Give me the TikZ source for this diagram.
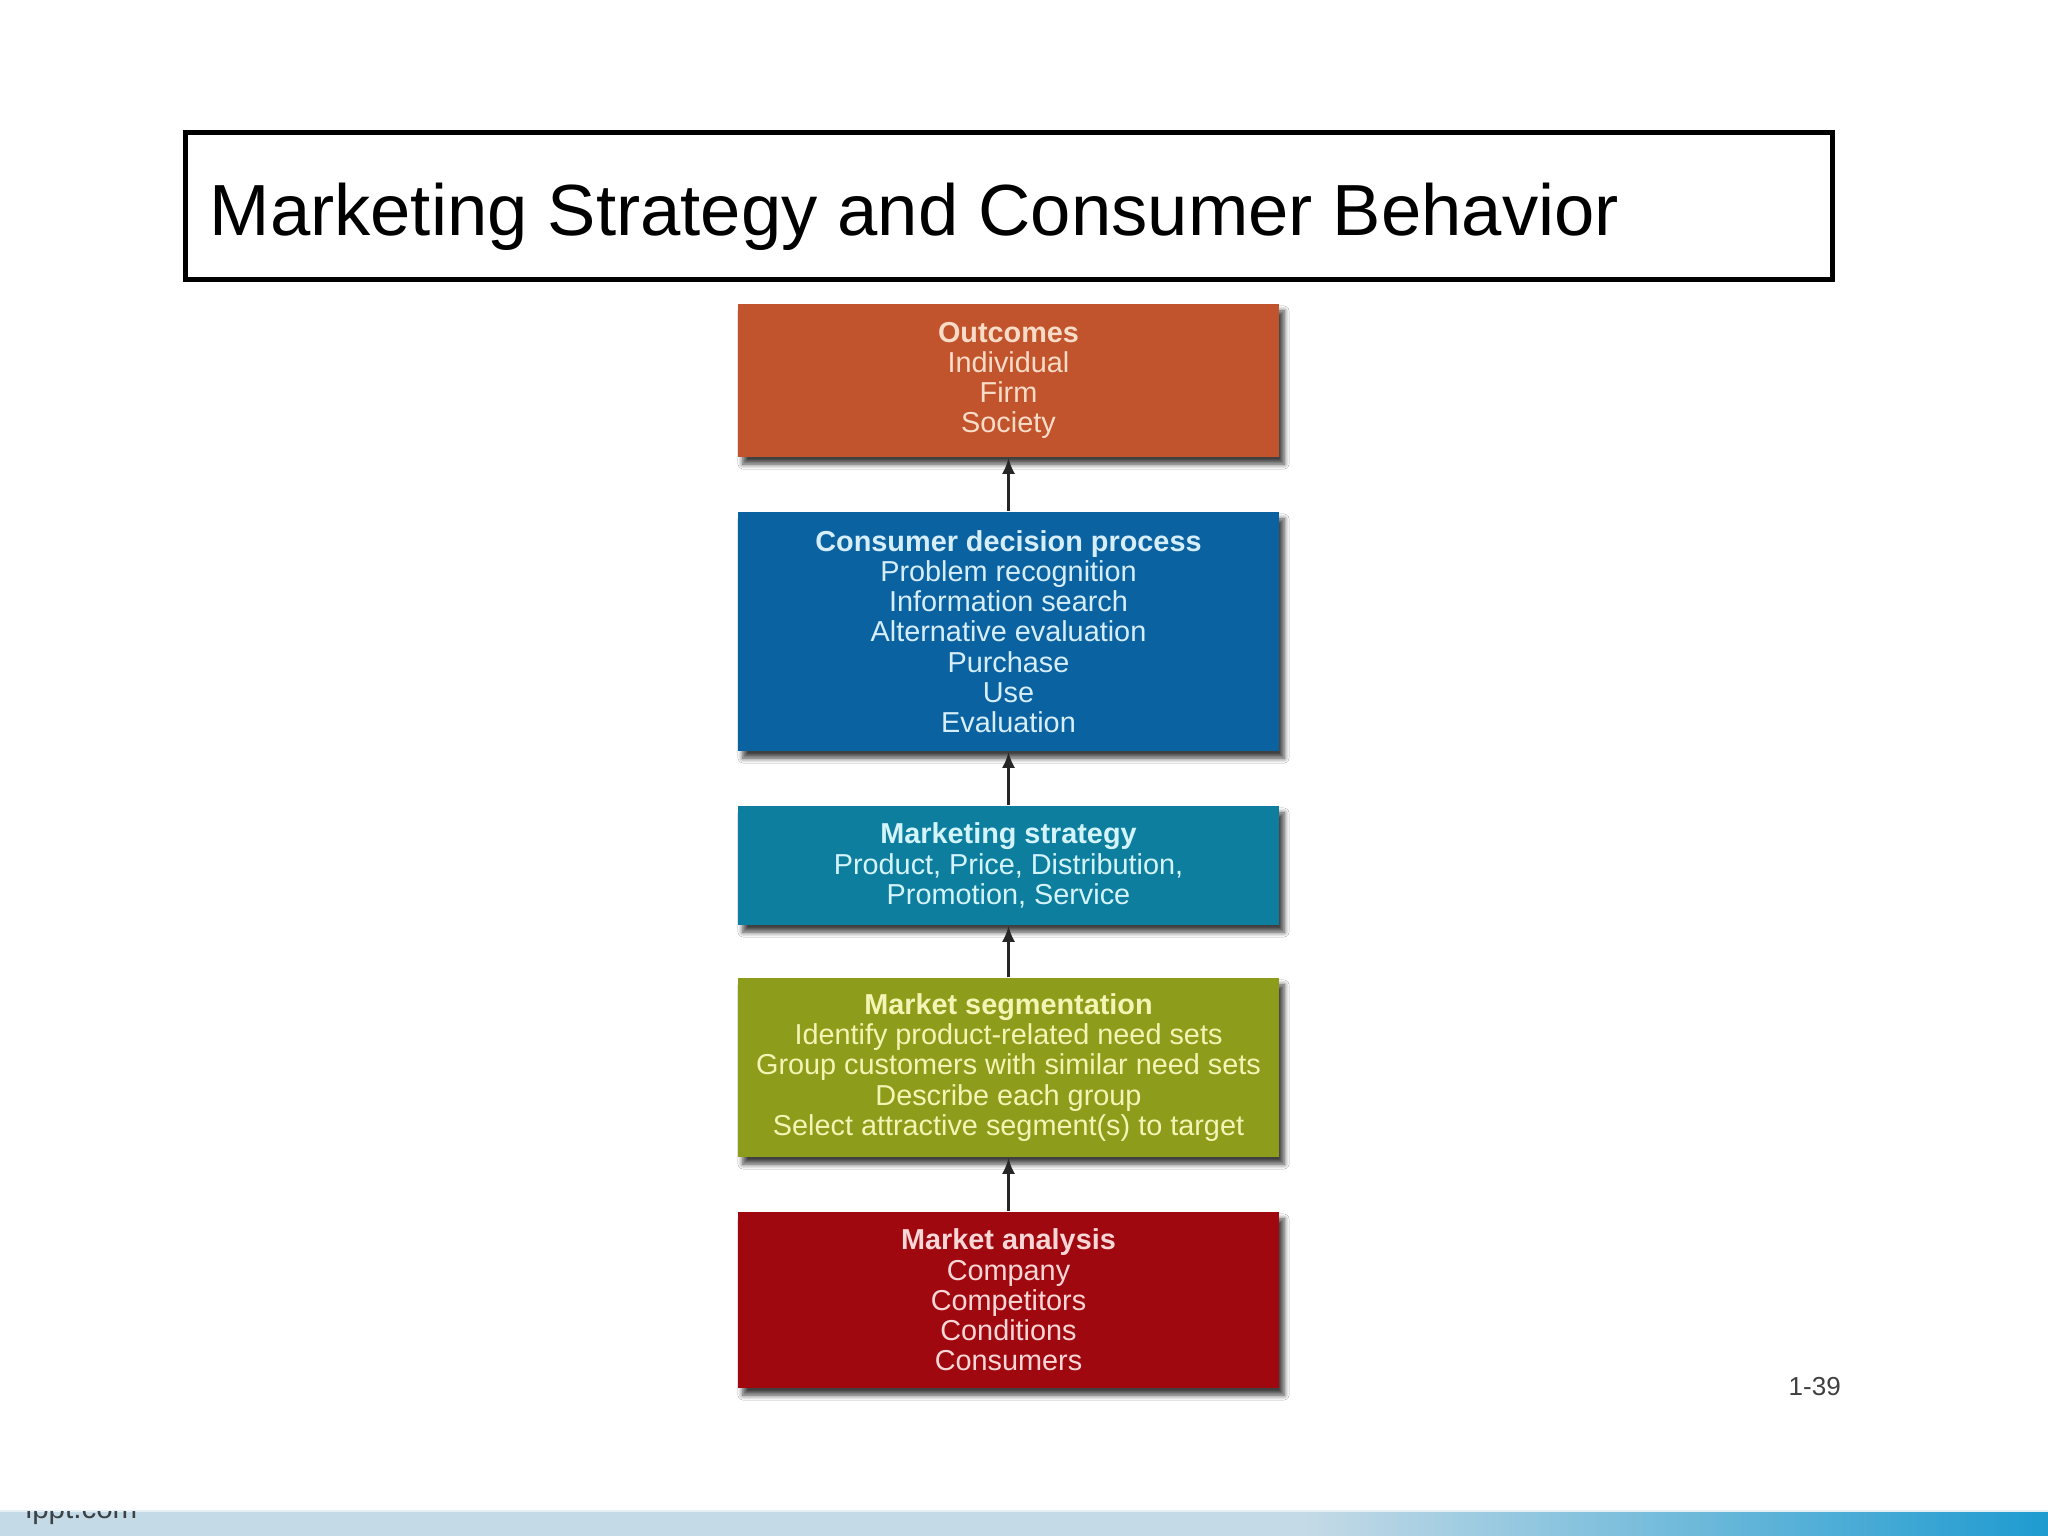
\documentclass[tikz,border=0pt]{standalone}
\usepackage{fontspec}
\setmainfont{Liberation Sans}
\usepackage{xcolor}
\usepackage{tikz}
\usetikzlibrary{arrows.meta}
\usetikzlibrary{shadows.blur}

\definecolor{outcfill}{HTML}{C1542C}
\definecolor{outctext}{HTML}{F9DCC8}
\definecolor{cdpfill}{HTML}{0B62A0}
\definecolor{cdptext}{HTML}{D6EEFA}
\definecolor{stratfill}{HTML}{0E7E9E}
\definecolor{strattext}{HTML}{D4F4FC}
\definecolor{segfill}{HTML}{8E9C1B}
\definecolor{segtext}{HTML}{F4F4B4}
\definecolor{analfill}{HTML}{A0080F}
\definecolor{analtext}{HTML}{FAD6D6}
\definecolor{barblue}{HTML}{C4DAE6}
\definecolor{barend}{HTML}{1E9BD0}

\begin{document}
\begin{tikzpicture}[x=0.01cm,y=-0.01cm]
\tikzset{>={Latex[width=1.3mm,length=1.6mm]}}
\tikzstyle{stage} =[rectangle, inner sep=0pt, minimum width=5.41cm, align=center, font=\fontsize{8.2pt}{8.6pt}\selectfont, blur shadow={shadow xshift=0.05cm,shadow yshift=-0.07cm,shadow blur radius=0.05cm,shadow blur steps=6,shadow opacity=75}]
\tikzstyle{link} =[->, line width=0.03cm, black!85]

\useasboundingbox (0,0) rectangle (2048,1536);
\fill[white] (0,0) rectangle (2048,1536);

\node[draw, line width=0.05cm, minimum width=16.46cm, minimum height=1.46cm, inner sep=0pt](titlebox) at (1009,206){};
\node[anchor=base west, inner sep=0pt, font=\fontsize{20.6pt}{24pt}\selectfont](title) at (209,235){Marketing Strategy and Consumer Behavior};

\node[stage, fill=outcfill, text=outctext, minimum height=1.53cm](outc) at (1008.5,380.5){\textbf{Outcomes}\\Individual\\Firm\\Society};
\node[stage, fill=cdpfill, text=cdptext, minimum height=2.39cm](cdp) at (1008.5,631.5){\textbf{Consumer decision process}\\Problem recognition\\Information search\\Alternative evaluation\\Purchase\\Use\\Evaluation};
\node[stage, fill=stratfill, text=strattext, minimum height=1.19cm](mstrat) at (1008.5,865.5){\textbf{Marketing strategy}\\Product, Price, Distribution,\\Promotion, Service};
\node[stage, fill=segfill, text=segtext, minimum height=1.79cm](mseg) at (1008.5,1067.5){\textbf{Market segmentation}\\Identify product-related need sets\\Group customers with similar need sets\\Describe each group\\Select attractive segment(s) to target};
\node[stage, fill=analfill, text=analtext, minimum height=1.76cm](manal) at (1008.5,1300){\textbf{Market analysis}\\Company\\Competitors\\Conditions\\Consumers};

\draw[link] (cdp.north) -- (outc.south);
\draw[link] (mstrat.north) -- (cdp.south);
\draw[link] (mseg.north) -- (mstrat.south);
\draw[link] (manal.north) -- (mseg.south);

\node[anchor=base west, inner sep=0pt, text=black!75, font=\fontsize{7.4pt}{9pt}\selectfont](pgnum) at (1788,1395){1-39};

\fill[barblue] (0,1510) rectangle (1306,1536);
\shade[left color=barblue, right color=barend] (1306,1510) rectangle (2048,1536);
\draw[white!60!barblue, line width=0.02cm] (0,1511) -- (2048,1511);
\begin{scope}
\clip (0,1511) rectangle (400,1536);
\node[anchor=base west, inner sep=0pt, text=black!70!barblue, font=\fontsize{8.4pt}{10pt}\selectfont](site) at (25,1518){ippt.com};
\end{scope}
\end{tikzpicture}
\end{document}
